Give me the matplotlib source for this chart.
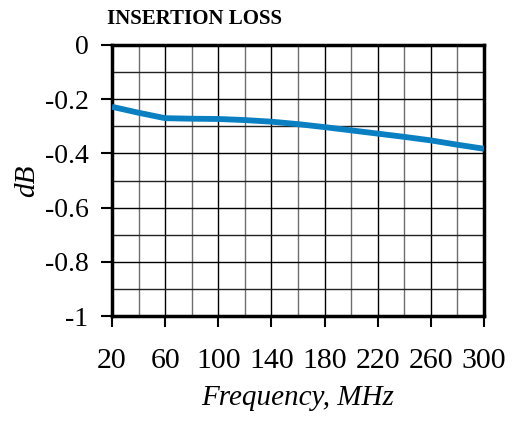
import numpy as np
import matplotlib.pyplot as plt
from matplotlib.ticker import MultipleLocator

plt.rcParams['font.family'] = ['Liberation Serif', 'DejaVu Serif']

# Insertion loss
freq_mhz = [20, 40, 60, 80, 100, 120, 140, 160, 180, 200, 220, 240, 260, 280, 300]
loss_db = [-0.228, -0.25, -0.27, -0.272, -0.273, -0.277, -0.283, -0.292, -0.303, -0.315, -0.327, -0.339, -0.352, -0.368, -0.383]
x_ticks = [20, 60, 100, 140, 180, 220, 260, 300]
y_ticks = [0, -0.2, -0.4, -0.6, -0.8, -1]
y_labels = ['0', '-0.2', '-0.4', '-0.6', '-0.8', '-1']

fig = plt.figure(figsize=(5.22, 4.21), dpi=100)
ax = fig.add_axes([112 / 522, 1 - 316 / 421, 372 / 522, 271 / 421])

ax.plot(freq_mhz, loss_db, color='#0a80c2', linewidth=4.2, solid_capstyle='butt', zorder=3)

ax.set_xlim(20, 300)
ax.set_ylim(-1, 0)
ax.set_xticks(x_ticks)
ax.xaxis.set_minor_locator(MultipleLocator(20))
ax.set_yticks(y_ticks)
ax.set_yticklabels(y_labels)
ax.yaxis.set_minor_locator(MultipleLocator(0.1))

ax.grid(True, which='major', color='black', linewidth=1.0)
ax.grid(True, which='minor', axis='x', color='#6e6e6e', linewidth=1.0)
ax.grid(True, which='minor', axis='y', color='#222222', linewidth=1.0)
ax.set_axisbelow(True)

for s in ax.spines.values():
    s.set_linewidth(2.5)
    s.set_color('black')

ax.tick_params(axis='both', which='major', direction='out', length=8, width=1.5)
ax.tick_params(axis='both', which='minor', length=0)
ax.tick_params(axis='x', which='major', pad=15, labelsize=21.5)
ax.tick_params(axis='y', which='major', pad=9, labelsize=20)

ax.set_xlabel('Frequency, MHz', fontsize=21, style='italic', labelpad=8)
ax.set_ylabel('dB', fontsize=21, style='italic', labelpad=3)

fig.text(107 / 522, 1 - 18.5 / 421, 'INSERTION LOSS', fontsize=15, fontweight='bold', va='center', ha='left')

fig.savefig('out.png', dpi=100)
